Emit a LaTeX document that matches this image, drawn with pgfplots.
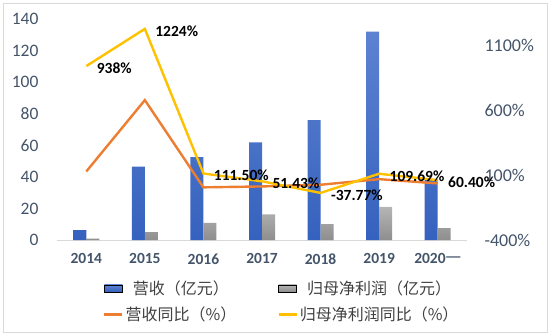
\documentclass[border=0pt]{standalone}
\usepackage{pgfplots}
\pgfplotsset{compat=1.18}
\usepackage{fontspec}
\setmainfont{Carlito}
\newfontfamily\cjk{Noto Sans CJK SC}
\definecolor{cblue}{HTML}{4472C4}
\definecolor{cbluetop}{HTML}{5E82D2}
\definecolor{cbluebot}{HTML}{3562BE}
\definecolor{cgraytop}{HTML}{B5B5B5}
\definecolor{cgraybot}{HTML}{8E8E8E}
\definecolor{corange}{HTML}{ED7D31}
\definecolor{cyellow}{HTML}{FFC000}
\definecolor{ctext}{HTML}{44546A}
\definecolor{cborder}{HTML}{D9D9D9}
\pgfplotsset{
  barleg/.style={legend image code/.code={\fill[##1] (0bp,-3.5bp) rectangle (18bp,3.5bp);}},
  lineleg/.style={legend image code/.code={\draw[##1] (0bp,0bp) -- (18bp,0bp);}},
}
\begin{document}
\begin{tikzpicture}
\useasboundingbox (0,0) rectangle (550bp,335bp);
\draw[cborder, line width=0.8bp] (3bp,3bp) rectangle (547bp,332bp);
\begin{axis}[
  at={(57bp,95bp)}, anchor=south west,
  scale only axis, width=410bp, height=221bp,
  xmin=-0.5, xmax=6.5, ymin=0, ymax=140,
  ybar=0pt, bar width=13bp,
  axis lines=left,
  y axis line style={draw=none},
  x axis line style={draw=cborder, line width=0.8bp, -},
  major tick length=0pt,
  xtick={0,...,6},
  xticklabels={2014,2015,2016,2017,2018,2019,{2020{\cjk\mdseries 一}}},
  xticklabel style={font=\fontsize{15.5bp}{17bp}\selectfont\bfseries, text=ctext, yshift=-10bp},
  ytick={0,20,...,140},
  yticklabel style={font=\fontsize{17.5bp}{19bp}\selectfont, text=ctext, anchor=east, xshift=-15bp},
  /pgf/number format/assume math mode=true,
  clip=false,
]
\addplot[draw=none, top color=cbluetop, bottom color=cbluebot] coordinates {(0,6.3) (1,46.5) (2,52.5) (3,61.8) (4,76) (5,132) (6,38)};
\addplot[draw=none, top color=cgraytop, bottom color=cgraybot] coordinates {(0,0.8) (1,5) (2,10.8) (3,16.3) (4,10) (5,21) (6,7.6)};
\end{axis}
\begin{axis}[
  at={(57bp,95bp)}, anchor=south west,
  scale only axis, width=410bp, height=221bp,
  xmin=-0.5, xmax=6.5, ymin=-400, ymax=1300,
  axis x line=none,
  axis y line*=right,
  y axis line style={draw=none},
  major tick length=0pt,
  ytick={-400,100,600,1100},
  yticklabels={-400\%,100\%,600\%,1100\%},
  yticklabel style={font=\fontsize{18bp}{20bp}\selectfont, text=ctext, anchor=west, xshift=14bp},
  clip=false,
  legend columns=2,
  legend style={at={(0.105,-0.165)}, anchor=north west, draw=none, fill=none,
    font=\fontsize{16bp}{18bp}\selectfont\cjk, text=black!75,
    /tikz/every even column/.append style={column sep=39bp},
    row sep=7bp},
]
\addplot[corange, line width=2.4bp, forget plot] coordinates {(0,127) (1,676) (2,5) (3,12) (4,25) (5,68) (6,35)};
\addplot[cyellow, line width=2.4bp, forget plot,
  nodes near coords, point meta=explicit symbolic,
  nodes near coords style={anchor=west, xshift=6bp, yshift=-2bp, text=black, font=\fontsize{15.5bp}{17bp}\selectfont\bfseries}]
  coordinates {(0,938) [938\%] (1,1224) [1224\%] (2,111.5) [111.50\%] (3,51.43) [51.43\%] (4,-37.77) [-37.77\%] (5,109.69) [109.69\%] (6,60.40) [60.40\%]};
\addlegendimage{barleg, top color=cbluetop, bottom color=cbluebot}
\addlegendentry{营收（亿元）}
\addlegendimage{barleg, top color=cgraytop, bottom color=cgraybot}
\addlegendentry{归母净利润（亿元）}
\addlegendimage{lineleg, corange, line width=2.4bp}
\addlegendentry{营收同比（\%）}
\addlegendimage{lineleg, cyellow, line width=2.4bp}
\addlegendentry{归母净利润同比（\%）}
\end{axis}
\end{tikzpicture}
\end{document}
